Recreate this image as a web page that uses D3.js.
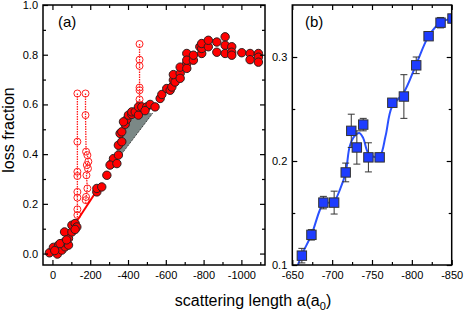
<!DOCTYPE html>
<html>
<head>
<meta charset="utf-8">
<script src="https://cdn.jsdelivr.net/npm/d3@7"></script>
<style>
  body { margin: 0; background: #fff; }
  svg { display: block; font-family: "Liberation Sans", Arial, sans-serif; }
  .tick text { font-size: 11px; fill: #000; }
  .tick line { stroke: #000; stroke-width: 1.2; }
</style>
</head>
<body>
<svg width="464" height="312"></svg>
<script>
// ---- panel (a) data: scattering length vs loss fraction ----
var filledA = [
  [16,0.003],[-5,0.025],[-26,-0.002],[-32,0.034],[-50,0.014],[-67,0.027],[-64,0.047],
  [-85,0.034],[-85,0.061],[-64,0.087],[-103,0.087],[-103,0.114],[-120,0.121],[-129,0.107],
  [-120,0.097],[-12,0.012],[-40,0.04],[-75,0.055],
  [-235,0.248],[-235,0.262],[-261,0.268],[-288,0.315],[-314,0.362],[-323,0.382],[-305,0.356],
  [-341,0.362],[-349,0.396],[-349,0.436],[-367,0.45],[-358,0.483],[-367,0.49],[-385,0.52],
  [-394,0.54],[-376,0.53],[-402,0.557],[-420,0.56],[-420,0.57],[-438,0.57],[-455,0.557],
  [-455,0.59],[-473,0.59],[-499,0.59],[-517,0.6],[-490,0.575],[-543,0.59],
  [-570,0.624],[-579,0.64],[-605,0.664],[-623,0.657],[-632,0.67],[-640,0.698],[-649,0.69],
  [-640,0.72],[-676,0.725],[-676,0.705],[-676,0.75],[-711,0.765],[-711,0.745],[-711,0.805],
  [-711,0.778],[-746,0.778],[-746,0.798],[-780,0.832],[-790,0.805],[-790,0.825],[-790,0.845],
  [-825,0.832],[-825,0.858],[-870,0.851],[-870,0.81],[-914,0.872],[-914,0.838],[-914,0.805],
  [-949,0.832],[-949,0.81],[-949,0.798],[-1002,0.808],[-1046,0.805],[-1046,0.78],
  [-1090,0.805],[-1090,0.79],[-1090,0.77]
];
// open circles, three vertical runs joined by dotted lines
var openRun1 = [[-132,0.644],[-132,0.45],[-132,0.329],[-132,0.312],[-132,0.248],[-132,0.225],[-132,0.178],[-132,0.155],[-132,0.13]];
var openRun2 = [[-175,0.644],[-175,0.557],[-178,0.41],[-185,0.396],[-190,0.37],[-182,0.356],[-188,0.342],[-180,0.315],[-185,0.262],[-178,0.228],[-176,0.215],[-176,0.2]];
var openRun3 = [[-461,0.843],[-461,0.78],[-461,0.755],[-461,0.668],[-461,0.657],[-461,0.62],[-461,0.6],[-461,0.58]];
var fitLineA = [[-118,0.118],[-242,0.262]];
var bandA = [[-335,0.369],[-342,0.43],[-375,0.5],[-420,0.55],[-470,0.575],[-530,0.564]];

// ---- panel (b) data ----
var aB   = [-662,-674,-689,-702.5,-717,-724,-731,-739,-745.5,-759.6,-775.5,-790,-805.5,-821,-836,-851];
var valB = [0.109,0.129,0.160,0.160,0.189,0.229,0.213,0.235,0.2035,0.2035,0.256,0.262,0.292,0.320,0.333,0.337];
var errB = [0.007,0.005,0.006,0.011,0.009,0.016,0.016,0.006,0.014,0.004,0.003,0.021,0.008,0.003,0.005,0.003];
var curveB = [[-657,0.100],[-662,0.110],[-674,0.129],[-689,0.159],[-696,0.160],[-703,0.162],
  [-710,0.173],[-717,0.189],[-722,0.214],[-728,0.224],[-734,0.227],[-739,0.222],[-745,0.208],
  [-752,0.204],[-760,0.205],[-767,0.224],[-775,0.252],[-790,0.266],[-805,0.292],[-821,0.320],
  [-836,0.333],[-855,0.338]];

var svg = d3.select("svg");

var xA = d3.scaleLinear().domain([50, -1125]).range([43, 265]),
    yA = d3.scaleLinear().domain([-0.046, 1.0]).range([265, 5]);
var xB = d3.scaleLinear().domain([-650, -850]).range([292.3, 451.7]),
    yB = d3.scaleLinear().domain([0.1, 0.35]).range([265, 5]);

function frame(x, y, xMajor, xMinor, yMajor, yMinor, yFmt) {
  var x0 = x.range()[0], x1 = x.range()[1], y0 = y.range()[1], y1 = y.range()[0];
  var g = svg.append("g");
  var noLab = function() { return ""; };
  g.append("g").attr("transform", "translate(0," + y1 + ")")
    .call(d3.axisBottom(x).tickValues(xMajor).tickSizeInner(-5).tickSizeOuter(0).tickPadding(6)
      .tickFormat(function(d) { return String(d); }));
  g.append("g").attr("transform", "translate(0," + y1 + ")")
    .call(d3.axisBottom(x).tickValues(xMinor).tickSizeInner(-3).tickSizeOuter(0).tickFormat(noLab));
  g.append("g").attr("transform", "translate(0," + y0 + ")")
    .call(d3.axisTop(x).tickValues(xMajor).tickSizeInner(-5).tickSizeOuter(0).tickFormat(noLab));
  g.append("g").attr("transform", "translate(0," + y0 + ")")
    .call(d3.axisTop(x).tickValues(xMinor).tickSizeInner(-3).tickSizeOuter(0).tickFormat(noLab));
  g.append("g").attr("transform", "translate(" + x0 + ",0)")
    .call(d3.axisLeft(y).tickValues(yMajor).tickSizeInner(-5).tickSizeOuter(0).tickPadding(5)
      .tickFormat(yFmt));
  g.append("g").attr("transform", "translate(" + x0 + ",0)")
    .call(d3.axisLeft(y).tickValues(yMinor).tickSizeInner(-3).tickSizeOuter(0).tickFormat(noLab));
  g.append("g").attr("transform", "translate(" + x1 + ",0)")
    .call(d3.axisRight(y).tickValues(yMajor).tickSizeInner(-5).tickSizeOuter(0).tickFormat(noLab));
  g.append("g").attr("transform", "translate(" + x1 + ",0)")
    .call(d3.axisRight(y).tickValues(yMinor).tickSizeInner(-3).tickSizeOuter(0).tickFormat(noLab));
  g.selectAll(".domain").remove();
  g.append("rect").attr("x", x0).attr("y", y0).attr("width", x1 - x0).attr("height", y1 - y0)
    .attr("fill", "none").attr("stroke", "#000").attr("stroke-width", 1.5);
}

// clip paths
var defs = svg.append("defs");
defs.append("clipPath").attr("id", "clipA").append("rect")
  .attr("x", 43).attr("y", 5).attr("width", 222).attr("height", 260);
defs.append("clipPath").attr("id", "clipB").append("rect")
  .attr("x", 292.3).attr("y", 5).attr("width", 159.4).attr("height", 260);

// ---- panel (a) marks ----
var gA = svg.append("g").attr("clip-path", "url(#clipA)");
var lineA = d3.line().x(function(d) { return xA(d[0]); }).y(function(d) { return yA(d[1]); });

// shaded band under the data, closed back along a straight lower edge
gA.append("path").datum(bandA).attr("d", function(d) { return lineA(d) + "Z"; })
  .attr("fill", "#7b8886").attr("stroke", "none");
gA.append("path").datum([bandA[0], bandA[bandA.length - 1]]).attr("d", lineA)
  .attr("fill", "none").attr("stroke", "#222").attr("stroke-width", 1).attr("stroke-dasharray", "1,1");

[openRun1, openRun2, openRun3].forEach(function(run) {
  gA.append("path").datum(run).attr("d", lineA).attr("fill", "none")
    .attr("stroke", "#ff1a1a").attr("stroke-width", 1.3).attr("stroke-dasharray", "1.5,1");
  gA.selectAll(null).data(run.slice(0, -1)).enter().append("circle")
    .attr("cx", function(d) { return xA(d[0]); })
    .attr("cy", function(d) { return yA(d[1]); })
    .attr("r", 3.5).attr("fill", "none").attr("stroke", "#ff2020").attr("stroke-width", 1);
});

gA.append("path").datum(fitLineA).attr("d", lineA).attr("fill", "none")
  .attr("stroke", "#ff0000").attr("stroke-width", 2);

gA.selectAll(".pt").data(filledA).enter().append("circle")
  .attr("class", "pt")
  .attr("cx", function(d) { return xA(d[0]); })
  .attr("cy", function(d) { return yA(d[1]); })
  .attr("r", 4.2).attr("fill", "#ff0000").attr("stroke", "#2b2020").attr("stroke-width", 1);

frame(xA, yA, [0, -200, -400, -600, -800, -1000], [-100, -300, -500, -700, -900, -1100],
  [0, 0.2, 0.4, 0.6, 0.8, 1.0], [0.1, 0.3, 0.5, 0.7, 0.9], d3.format(".1f"));

// ---- panel (b) marks ----
var gB = svg.append("g").attr("clip-path", "url(#clipB)");
var ptsB = aB.map(function(a, i) { return { a: a, v: valB[i], e: errB[i] }; });

gB.append("path").datum(curveB)
  .attr("d", d3.line().curve(d3.curveCatmullRom.alpha(0.5))
    .x(function(d) { return xB(d[0]); }).y(function(d) { return yB(d[1]); }))
  .attr("fill", "none").attr("stroke", "#2a50ff").attr("stroke-width", 2);

var eb = gB.selectAll(".eb").data(ptsB).enter().append("g").attr("class", "eb")
  .attr("stroke", "#333").attr("stroke-width", 1);
eb.append("line")
  .attr("x1", function(d) { return xB(d.a); }).attr("x2", function(d) { return xB(d.a); })
  .attr("y1", function(d) { return yB(d.v - d.e); }).attr("y2", function(d) { return yB(d.v + d.e); });
eb.append("line")
  .attr("x1", function(d) { return xB(d.a) - 3.5; }).attr("x2", function(d) { return xB(d.a) + 3.5; })
  .attr("y1", function(d) { return yB(d.v - d.e); }).attr("y2", function(d) { return yB(d.v - d.e); });
eb.append("line")
  .attr("x1", function(d) { return xB(d.a) - 3.5; }).attr("x2", function(d) { return xB(d.a) + 3.5; })
  .attr("y1", function(d) { return yB(d.v + d.e); }).attr("y2", function(d) { return yB(d.v + d.e); });

gB.selectAll(".sq").data(ptsB).enter().append("rect").attr("class", "sq")
  .attr("x", function(d) { return xB(d.a) - 4.7; })
  .attr("y", function(d) { return yB(d.v) - 4.7; })
  .attr("width", 9.4).attr("height", 9.4)
  .attr("fill", "#1e3cff").attr("stroke", "#333").attr("stroke-width", 1);

frame(xB, yB, [-650, -700, -750, -800, -850], [-675, -725, -775, -825],
  [0.1, 0.2, 0.3], [0.15, 0.25], d3.format(".1f"));

// ---- labels ----
svg.append("text").attr("x", 58).attr("y", 27).attr("font-size", 15).text("(a)");
svg.append("text").attr("x", 305).attr("y", 27).attr("font-size", 15).text("(b)");

svg.append("text")
  .attr("transform", "translate(14,130) rotate(-90)")
  .attr("text-anchor", "middle").attr("font-size", 16).text("loss fraction");

var xt = svg.append("text").attr("x", 253).attr("y", 306)
  .attr("text-anchor", "middle").attr("font-size", 16);
xt.append("tspan").text("scattering length a(a");
xt.append("tspan").attr("font-size", 11).attr("dy", 4).text("0");
xt.append("tspan").attr("dy", -4).text(")");
</script>
</body>
</html>
